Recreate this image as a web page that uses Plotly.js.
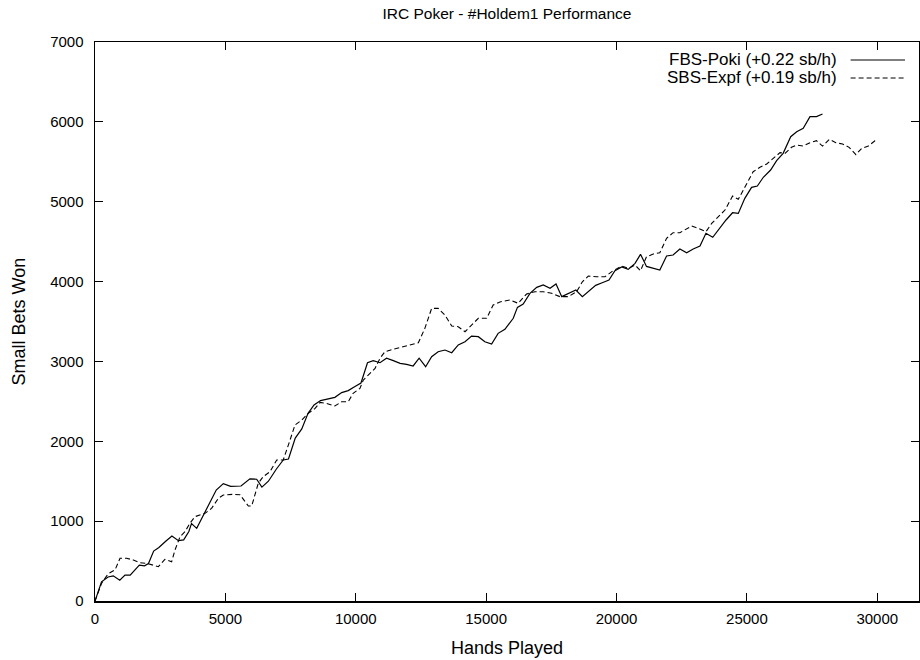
<!DOCTYPE html>
<html>
<head>
<meta charset="utf-8">
<script src="https://cdn.plot.ly/plotly-3.0.1.min.js"></script>
<style>html,body{margin:0;padding:0;background:#fff;}#chart{width:920px;height:660px;}</style>
</head>
<body>
<div id="chart"></div>
<script>
// ---- data ----
const seriesNames = ["FBS-Poki (+0.22 sb/h)", "SBS-Expf (+0.19 sb/h)"];

const pokiHands = [0,250,500,700,950,1150,1350,1550,1700,1900,2050,2250,2450,2700,2950,3200,3400,3600,3700,3900,4200,4400,4650,4920,5200,5600,5940,6200,6400,6650,6950,7220,7420,7680,7930,8170,8400,8650,8950,9200,9460,9710,9970,10200,10450,10670,10930,11180,11440,11700,11950,12200,12430,12680,12910,13160,13420,13680,13930,14190,14440,14700,14950,15210,15460,15720,16040,16200,16420,16680,16940,17190,17450,17680,17900,18150,18440,18690,18940,19200,19450,19710,19940,20200,20450,20710,20920,21150,21660,21920,22170,22430,22690,22940,23200,23430,23690,23900,24200,24450,24670,24920,25180,25400,25630,25910,26140,26390,26680,26910,27160,27420,27670,27900];
const pokiWon = [0,240,300,315,260,325,325,400,450,440,470,625,670,745,815,755,765,870,970,910,1100,1225,1390,1470,1435,1440,1530,1525,1425,1500,1650,1766,1778,2040,2155,2350,2455,2510,2530,2550,2610,2635,2685,2730,2984,3010,2984,3040,3010,2976,2964,2943,3040,2934,3059,3122,3143,3109,3206,3247,3318,3310,3247,3218,3352,3402,3540,3677,3719,3853,3928,3957,3916,3970,3811,3853,3894,3811,3886,3953,3986,4019,4136,4183,4153,4228,4341,4190,4145,4320,4333,4408,4361,4408,4445,4604,4554,4646,4771,4862,4854,5042,5180,5197,5306,5397,5514,5606,5814,5877,5919,6065,6065,6098];

const expfHands = [0,250,500,770,960,1210,1470,1725,1980,2240,2430,2680,2940,3070,3260,3450,3640,3830,4030,4220,4470,4730,4920,5300,5560,5880,6010,6260,6450,6710,6970,7220,7480,7670,7930,8180,8440,8630,8880,9200,9460,9710,9900,10160,10290,10540,10740,10930,11120,11440,11760,12080,12400,12650,12910,13160,13420,13680,13930,14190,14440,14700,15020,15270,15530,15910,16230,16550,16870,17190,17510,17830,18150,18470,18690,18920,19240,19560,19870,20200,20450,20710,20920,21150,21410,21660,21920,22170,22430,22880,23130,23430,23650,23900,24160,24450,24670,24920,25240,25500,25760,26010,26270,26460,26710,26910,27160,27420,27670,27900,28160,28410,28670,28920,29180,29400,29660,29910,30000];
const expfWon = [0,220,340,390,535,535,513,480,472,442,430,522,492,640,805,868,973,1056,1077,1098,1160,1286,1327,1336,1330,1190,1190,1473,1557,1619,1766,1766,2016,2204,2266,2350,2412,2487,2475,2442,2496,2496,2601,2663,2767,2851,2913,3039,3122,3152,3177,3206,3234,3414,3664,3664,3581,3443,3435,3372,3456,3540,3540,3707,3745,3769,3728,3844,3873,3873,3853,3811,3811,3873,3998,4069,4061,4061,4136,4195,4166,4207,4136,4311,4345,4361,4542,4612,4612,4696,4667,4625,4729,4812,4896,5071,5030,5180,5376,5431,5472,5543,5614,5606,5681,5710,5697,5739,5764,5697,5781,5739,5722,5681,5590,5668,5697,5764,5770];

const xTicks = [0,5000,10000,15000,20000,25000,30000];
const yTicks = [0,1000,2000,3000,4000,5000,6000,7000];

const chartTitle = "IRC Poker - #Holdem1 Performance";
const xTitle = "Hands Played";
const yTitle = "Small Bets Won";

// ---- chart ----
const FONT = "Liberation Sans, Arial, Helvetica, sans-serif";
const traces = [
  {x: pokiHands, y: pokiWon, name: seriesNames[0], type: "scatter", mode: "lines",
   line: {color: "#000", width: 1.2}, showlegend: false, hoverinfo: "skip"},
  {x: expfHands, y: expfWon, name: seriesNames[1], type: "scatter", mode: "lines",
   line: {color: "#000", width: 1.1, dash: "5px,3px"}, showlegend: false, hoverinfo: "skip"}
];

// gnuplot-style key: text then line sample, top right
const keyY = [0.9678, 0.9356];
const annotations = seriesNames.map((n, i) => ({
  xref: "paper", yref: "paper", x: 0.9035, y: keyY[i], xanchor: "right", yanchor: "middle",
  text: n, showarrow: false, font: {family: FONT, size: 17, color: "#000"}
}));
annotations.push({
  xref: "paper", yref: "paper", x: 0.5, y: -0.084, xanchor: "center", yanchor: "middle",
  text: xTitle, showarrow: false, font: {family: FONT, size: 18, color: "#000"}
});
annotations.push({
  xref: "paper", yref: "paper", x: -0.0934, y: 0.5, xanchor: "center", yanchor: "middle",
  textangle: -90, text: yTitle, showarrow: false, font: {family: FONT, size: 18, color: "#000"}
});
const shapes = seriesNames.map((n, i) => ({
  type: "line", xref: "paper", yref: "paper", x0: 0.917, x1: 0.983, y0: keyY[i], y1: keyY[i],
  line: {color: "#000", width: i === 0 ? 1.2 : 1.1, dash: i === 0 ? "solid" : "5px,3px"}
}));

const layout = {
  width: 920, height: 660,
  paper_bgcolor: "#fff", plot_bgcolor: "#fff",
  margin: {l: 95, r: 1, t: 42, b: 59, pad: 0},
  font: {family: FONT, size: 15, color: "#000"},
  title: {text: chartTitle, x: 0.5, xref: "paper", y: 0.98, yanchor: "middle",
          font: {family: FONT, size: 15.5, color: "#000"}},
  xaxis: {
    range: [0, 31600], tickvals: xTicks, ticktext: xTicks.map(String),
    ticks: "inside", ticklen: 8, tickwidth: 1, tickcolor: "#000",
    showline: true, linecolor: "#000", linewidth: 1.5, mirror: "allticks",
    showgrid: false, zeroline: false, ticklabelstandoff: 3,
    tickfont: {family: FONT, size: 15, color: "#000"}
  },
  yaxis: {
    range: [0, 7000], tickvals: yTicks, ticktext: yTicks.map(String),
    ticks: "inside", ticklen: 8, tickwidth: 1, tickcolor: "#000",
    showline: true, linecolor: "#000", linewidth: 1.5, mirror: "allticks",
    showgrid: false, zeroline: false, ticklabelstandoff: 7,
    tickfont: {family: FONT, size: 15, color: "#000"}
  },
  annotations: annotations,
  shapes: shapes,
  showlegend: false
};

Plotly.newPlot("chart", traces, layout, {staticPlot: true, displayModeBar: false});
</script>
</body>
</html>
